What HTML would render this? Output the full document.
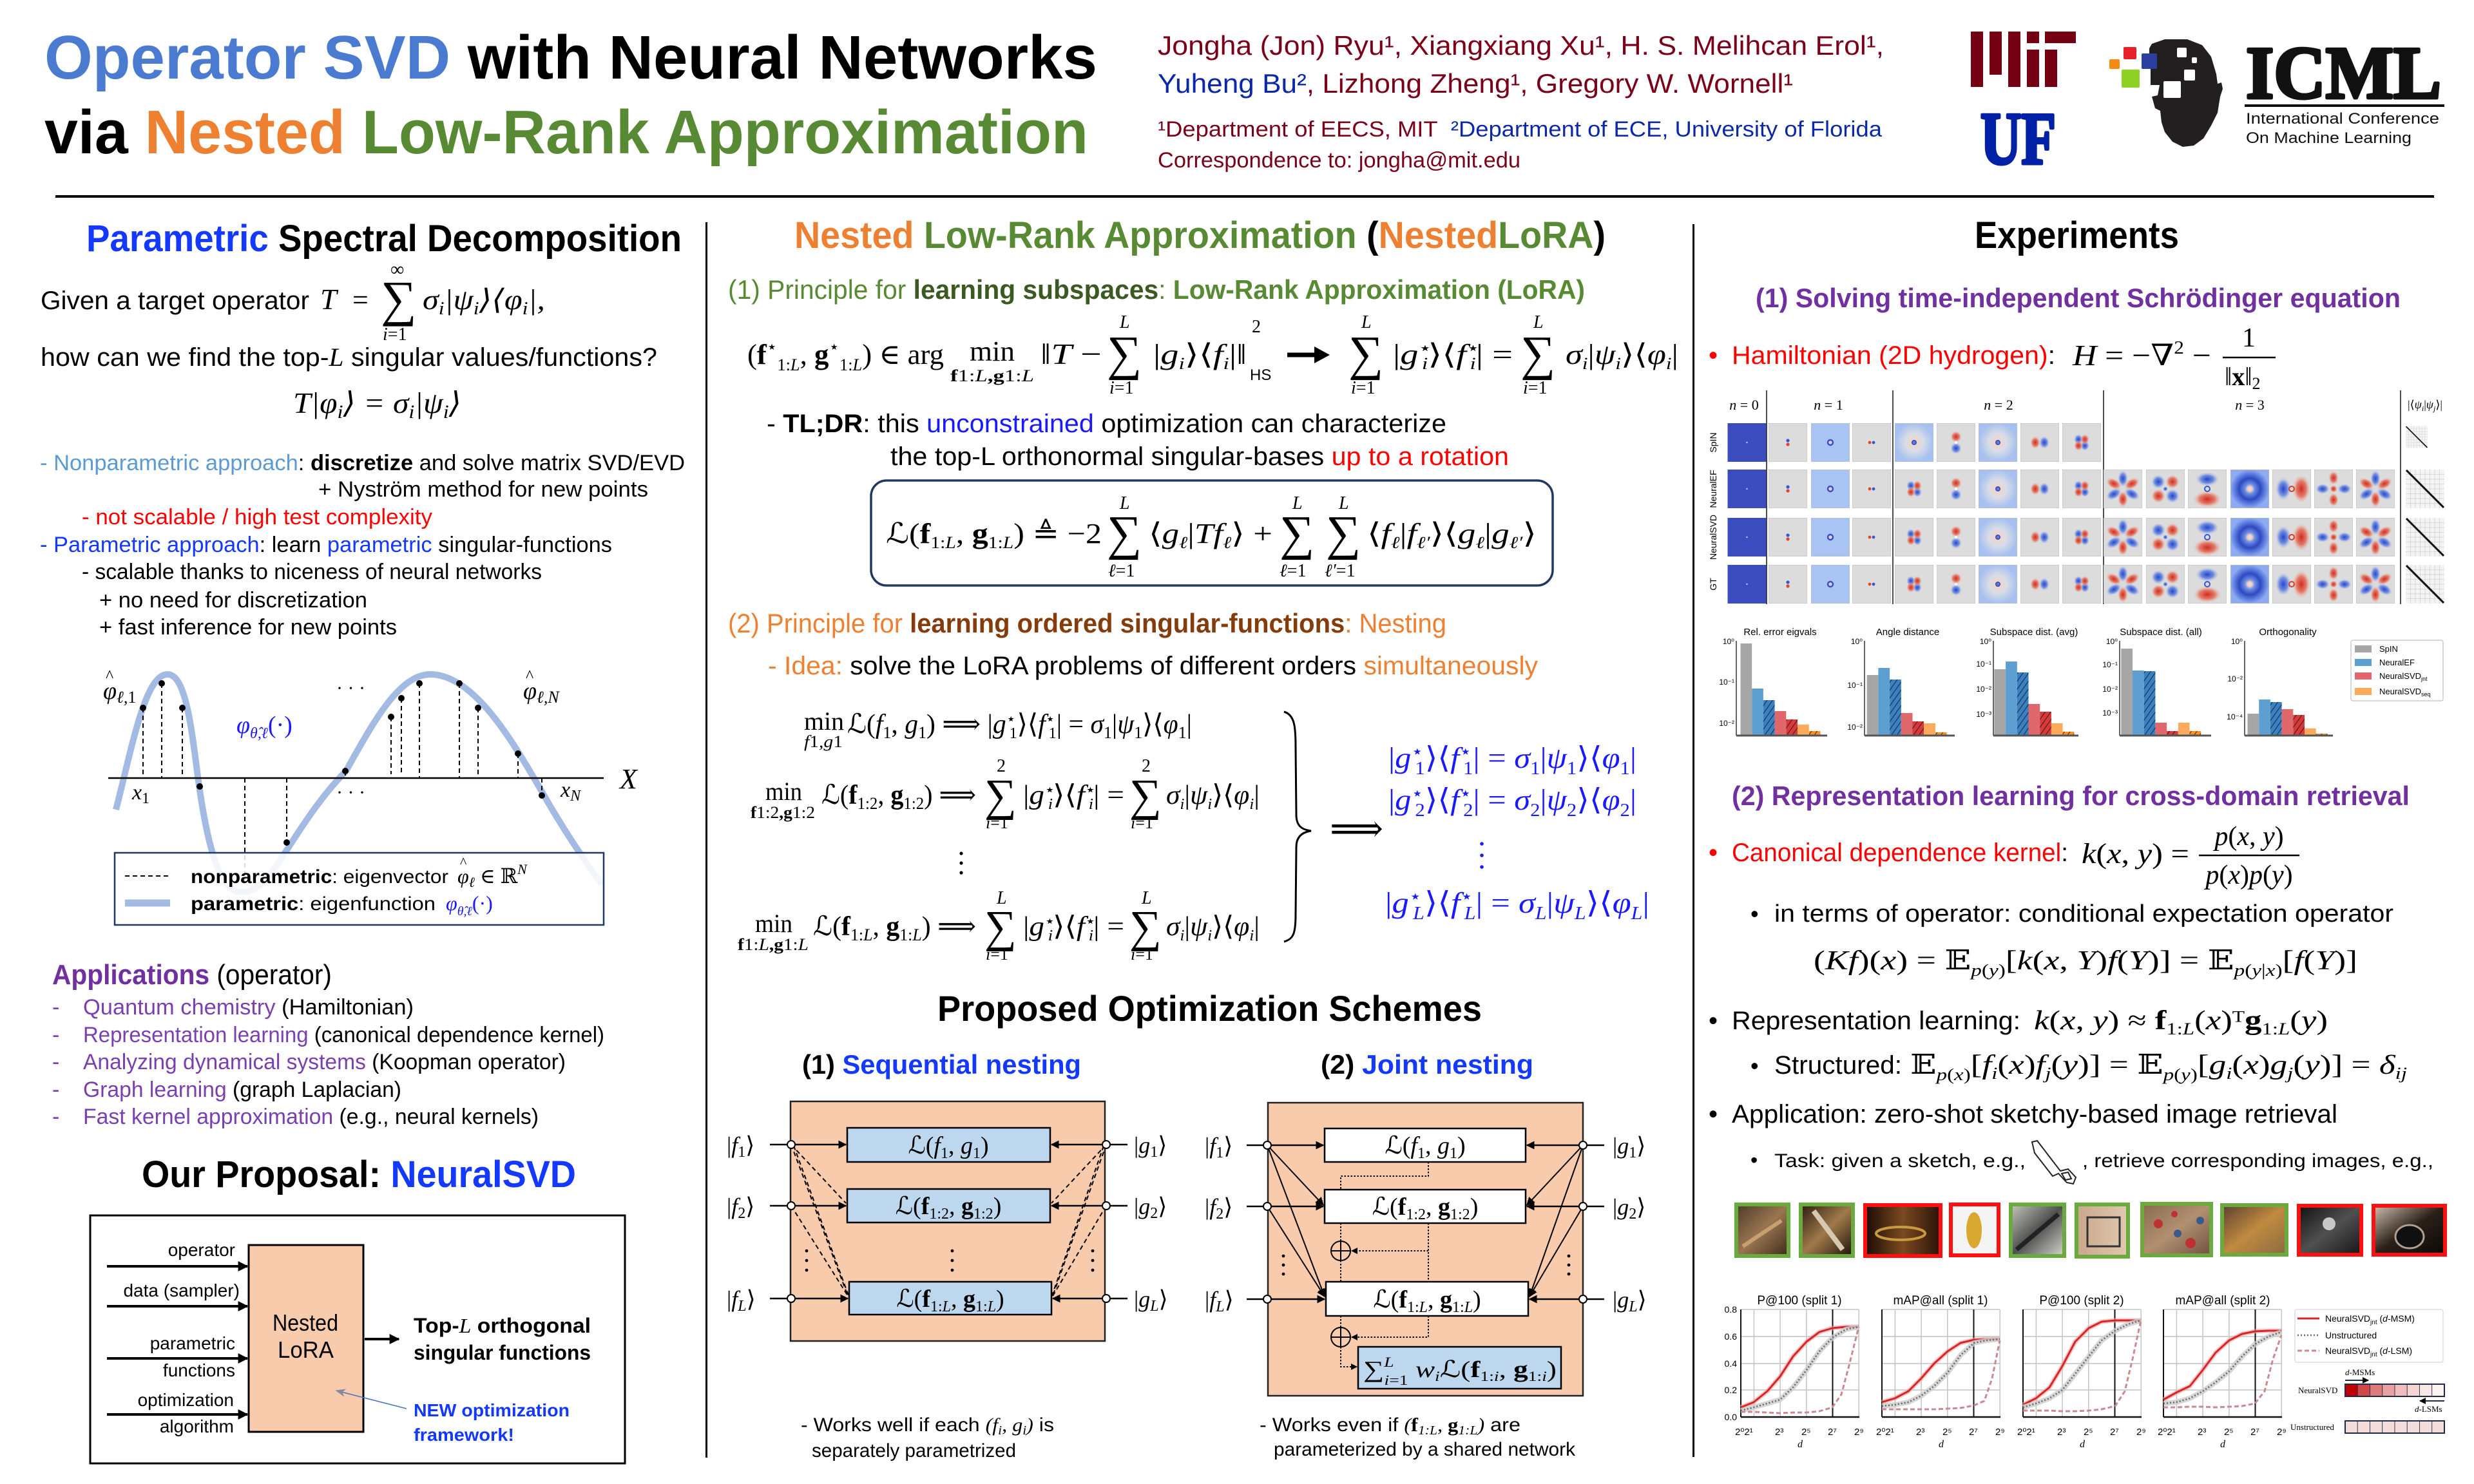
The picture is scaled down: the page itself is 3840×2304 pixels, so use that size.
<!DOCTYPE html>
<html><head><meta charset="utf-8">
<style>
html,body{margin:0;padding:0;background:#fff;}
body{width:3840px;height:2304px;overflow:hidden;}
svg{display:block;}
.s{font-family:"Liberation Sans","DejaVu Sans",sans-serif;}
.b{font-weight:bold;}
.m{font-family:"Liberation Serif","DejaVu Serif","DejaVu Sans",serif;font-style:italic;}
.r{font-family:"Liberation Serif","DejaVu Serif","DejaVu Sans",serif;font-style:normal;}
.bu{font-style:normal;font-weight:bold;}
.n{font-style:normal;}
</style></head>
<body>
<svg width="3840" height="2304" viewBox="0 0 3840 2304" xmlns="http://www.w3.org/2000/svg">
<defs>
<marker id="a1" viewBox="0 0 10 10" refX="9" refY="5" markerWidth="16" markerHeight="16" markerUnits="userSpaceOnUse" orient="auto"><path d="M0,0 L10,5 L0,10 z" fill="#000"/></marker>
<marker id="a2" viewBox="0 0 10 10" refX="9" refY="5" markerWidth="13" markerHeight="13" markerUnits="userSpaceOnUse" orient="auto"><path d="M0,0 L10,5 L0,10 z" fill="#000"/></marker>
<marker id="a3" viewBox="0 0 10 10" refX="9" refY="5" markerWidth="10" markerHeight="10" markerUnits="userSpaceOnUse" orient="auto"><path d="M0,0 L10,5 L0,10 z" fill="#000"/></marker>
<marker id="a4" viewBox="0 0 10 10" refX="9" refY="5" markerWidth="16" markerHeight="16" markerUnits="userSpaceOnUse" orient="auto"><path d="M0,1 L10,5 L0,9 L3,5 z" fill="#8a8a9a"/></marker>
<pattern id="hatch" width="7" height="7" patternUnits="userSpaceOnUse" patternTransform="rotate(35)"><line x1="0" y1="0" x2="0" y2="7" stroke="#111" stroke-width="1.6"/></pattern>
<radialGradient id="gr"><stop offset="0" stop-color="#d12a1e"/><stop offset="0.55" stop-color="#e36a55" stop-opacity="0.85"/><stop offset="1" stop-color="#f0c0b0" stop-opacity="0"/></radialGradient>
<radialGradient id="gb"><stop offset="0" stop-color="#2445cc"/><stop offset="0.55" stop-color="#5f7fe0" stop-opacity="0.85"/><stop offset="1" stop-color="#b0c0f0" stop-opacity="0"/></radialGradient>
<radialGradient id="gd"><stop offset="0" stop-color="#3050c8"/><stop offset="0.12" stop-color="#f3d4c6"/><stop offset="0.45" stop-color="#d9dde6"/><stop offset="1" stop-color="#a6c0f0"/></radialGradient>
<radialGradient id="gf"><stop offset="0" stop-color="#e9e2dc"/><stop offset="0.12" stop-color="#f0d0c0"/><stop offset="0.25" stop-color="#6e8fe6"/><stop offset="0.55" stop-color="#2e48c0"/><stop offset="0.8" stop-color="#5f80e0"/><stop offset="1" stop-color="#8eaaf0"/></radialGradient>
<symbol id="cd" viewBox="0 0 60 60"><rect width="60" height="60" fill="#3b4cbf"/><circle cx="30" cy="30" r="1.2" fill="#c8d0f0"/></symbol>
<symbol id="cA" viewBox="0 0 60 60"><rect width="60" height="60" fill="#dcdcdc" stroke="#bcbcbc"/><circle cx="30" cy="27" r="2.6" fill="#3555d5"/><circle cx="30" cy="33" r="2.6" fill="#e04434"/></symbol>
<symbol id="cA2" viewBox="0 0 60 60"><rect width="60" height="60" fill="#dcdcdc" stroke="#bcbcbc"/><circle cx="27" cy="30" r="2.4" fill="#e04434"/><circle cx="33" cy="30" r="2.4" fill="#3555d5"/></symbol>
<symbol id="cB" viewBox="0 0 60 60"><rect width="60" height="60" fill="#a9c3f3" stroke="#bcbcbc"/><circle cx="30" cy="30" r="4" fill="#e6d0d0" stroke="#2f4fd0" stroke-width="2.4"/></symbol>
<symbol id="cC" viewBox="0 0 60 60"><rect width="60" height="60" fill="#dcdcdc" stroke="#bcbcbc"/><ellipse cx="25" cy="25" rx="7" ry="8" fill="url(#gb)"/><ellipse cx="35" cy="35" rx="7" ry="8" fill="url(#gb)"/><ellipse cx="35" cy="25" rx="7" ry="8" fill="url(#gr)"/><ellipse cx="25" cy="35" rx="7" ry="8" fill="url(#gr)"/></symbol>
<symbol id="cG" viewBox="0 0 60 60"><rect width="60" height="60" fill="#dcdcdc" stroke="#bcbcbc"/><ellipse cx="30" cy="21" rx="9" ry="9" fill="url(#gr)"/><ellipse cx="30" cy="39" rx="9" ry="9" fill="url(#gb)"/><circle cx="30" cy="30" r="2" fill="#fff"/></symbol>
<symbol id="cH" viewBox="0 0 60 60"><rect width="60" height="60" fill="#dcdcdc" stroke="#bcbcbc"/><ellipse cx="23" cy="30" rx="8" ry="10" fill="url(#gr)"/><ellipse cx="37" cy="30" rx="8" ry="10" fill="url(#gb)"/></symbol>
<symbol id="cD" viewBox="0 0 60 60"><rect width="60" height="60" fill="url(#gd)" stroke="#bcbcbc"/><circle cx="30" cy="30" r="3" fill="none" stroke="#2f4fd0" stroke-width="2"/></symbol>
<symbol id="cE" viewBox="0 0 60 60"><rect width="60" height="60" fill="#dcdcdc" stroke="#bcbcbc"/><ellipse cx="30" cy="14" rx="8" ry="13" fill="url(#gb)"/><ellipse cx="30" cy="46" rx="8" ry="13" fill="url(#gr)"/><ellipse cx="16" cy="22" rx="8" ry="13" transform="rotate(-60 16 22)" fill="url(#gr)"/><ellipse cx="44" cy="38" rx="8" ry="13" transform="rotate(-60 44 38)" fill="url(#gb)"/><ellipse cx="44" cy="22" rx="8" ry="13" transform="rotate(60 44 22)" fill="url(#gr)"/><ellipse cx="16" cy="38" rx="8" ry="13" transform="rotate(60 16 38)" fill="url(#gb)"/></symbol>
<symbol id="cE2" viewBox="0 0 60 60"><rect width="60" height="60" fill="#dcdcdc" stroke="#bcbcbc"/><ellipse cx="19" cy="19" rx="11" ry="11" fill="url(#gb)"/><ellipse cx="41" cy="41" rx="11" ry="11" fill="url(#gb)"/><ellipse cx="41" cy="19" rx="11" ry="11" fill="url(#gr)"/><ellipse cx="19" cy="41" rx="11" ry="11" fill="url(#gr)"/><circle cx="30" cy="30" r="4" fill="url(#gb)"/></symbol>
<symbol id="cG2" viewBox="0 0 60 60"><rect width="60" height="60" fill="#dcdcdc" stroke="#bcbcbc"/><ellipse cx="30" cy="15" rx="18" ry="11" fill="url(#gb)"/><ellipse cx="30" cy="46" rx="22" ry="13" fill="url(#gr)"/><circle cx="30" cy="30" r="4" fill="none" stroke="#3555d5" stroke-width="2"/></symbol>
<symbol id="cG3" viewBox="0 0 60 60"><rect width="60" height="60" fill="#dcdcdc" stroke="#bcbcbc"/><ellipse cx="17" cy="30" rx="12" ry="18" fill="url(#gb)"/><ellipse cx="45" cy="30" rx="14" ry="22" fill="url(#gr)"/><circle cx="30" cy="30" r="4" fill="none" stroke="#d04030" stroke-width="2"/></symbol>
<symbol id="cE3" viewBox="0 0 60 60"><rect width="60" height="60" fill="#dcdcdc" stroke="#bcbcbc"/><ellipse cx="30" cy="13" rx="8" ry="11" fill="url(#gr)"/><ellipse cx="30" cy="47" rx="8" ry="11" fill="url(#gr)"/><ellipse cx="13" cy="30" rx="11" ry="8" fill="url(#gb)"/><ellipse cx="47" cy="30" rx="11" ry="8" fill="url(#gb)"/><circle cx="30" cy="30" r="6" fill="url(#gr)"/></symbol>
<symbol id="cF" viewBox="0 0 60 60"><rect width="60" height="60" fill="url(#gf)" stroke="#bcbcbc"/></symbol>
<symbol id="om" viewBox="0 0 60 60"><rect width="60" height="60" fill="#f4f4f4"/><path d="M0,7.5H60M0,15H60M0,22.5H60M0,30H60M0,37.5H60M0,45H60M0,52.5H60M7.5,0V60M15,0V60M22.5,0V60M30,0V60M37.5,0V60M45,0V60M52.5,0V60" stroke="#d0d0d0" stroke-width="0.8"/><line x1="1" y1="1" x2="59" y2="59" stroke="#111" stroke-width="3"/></symbol>
</defs>

<!-- ================= HEADER ================= -->
<text class="s b" x="69" y="122" font-size="96" textLength="1634" lengthAdjust="spacingAndGlyphs"><tspan fill="#4a7bd0">Operator SVD</tspan> with Neural Networks</text>
<text class="s b" x="69" y="238" font-size="96" textLength="1620" lengthAdjust="spacingAndGlyphs">via <tspan fill="#ee8032">Nested</tspan> <tspan fill="#588a34">Low-Rank Approximation</tspan></text>

<text class="s" x="1797" y="85" font-size="42" fill="#7a0019" textLength="1127" lengthAdjust="spacingAndGlyphs">Jongha (Jon) Ryu¹, Xiangxiang Xu¹, H. S. Melihcan Erol¹,</text>
<text class="s" x="1797" y="144" font-size="42" fill="#7a0019" textLength="986" lengthAdjust="spacingAndGlyphs"><tspan fill="#0a28a8">Yuheng Bu²</tspan>, Lizhong Zheng¹, Gregory W. Wornell¹</text>
<text class="s" x="1797" y="212" font-size="34" fill="#7a0019" textLength="1124" lengthAdjust="spacingAndGlyphs">¹Department of EECS, MIT&#160;&#160;<tspan fill="#0a28a8">²Department of ECE, University of Florida</tspan></text>
<text class="s" x="1797" y="260" font-size="34" fill="#7a0019" textLength="563" lengthAdjust="spacingAndGlyphs">Correspondence to: jongha@mit.edu</text>

<!-- MIT logo -->
<g fill="#750014">
<rect x="3059" y="49" width="19" height="86"/>
<rect x="3088" y="49" width="19" height="67"/>
<rect x="3117" y="49" width="19" height="86"/>
<rect x="3146" y="49" width="19" height="18"/>
<rect x="3146" y="77" width="19" height="58"/>
<rect x="3174" y="49" width="48" height="18"/>
<rect x="3174" y="77" width="19" height="58"/>
</g>
<!-- UF logo -->
<text class="r b" x="3074" y="254" font-size="116" fill="#0021a5" stroke="#0021a5" stroke-width="5" stroke-linejoin="round" textLength="117" lengthAdjust="spacingAndGlyphs">UF</text>
<!-- ICML logo -->
<path d="M3336,75 L3340,68 L3360,61 L3395,61 L3418,70 L3432,88 L3440,115 L3442,130 L3448,128 L3450,138 L3446,150 L3442,175 L3432,195 L3420,215 L3405,226 L3388,228 L3372,220 L3360,205 L3355,190 L3353,172 L3345,168 L3340,150 L3349,148 L3352,132 L3338,132 L3338,104 L3346,104 L3346,86 L3336,86 Z" fill="#231f20"/>
<rect x="3296" y="73" width="20" height="19" rx="2" fill="#e8202a"/>
<rect x="3324" y="83" width="24" height="24" rx="2" fill="#2b3f9e"/>
<rect x="3274" y="92" width="16" height="15" rx="2" fill="#f28c12"/>
<rect x="3293" y="108" width="28" height="28" rx="2" fill="#8fd124"/>
<rect x="3379" y="74" width="15" height="15" rx="2" fill="#fff"/>
<rect x="3402" y="89" width="8" height="9" rx="2" fill="#fff"/>
<rect x="3390" y="108" width="17" height="17" rx="2" fill="#fff"/>
<rect x="3358" y="126" width="27" height="26" rx="2" fill="#fff"/>
<text class="r b" x="3486" y="152" font-size="116" fill="#111" stroke="#111" stroke-width="5" stroke-linejoin="round" textLength="303" lengthAdjust="spacingAndGlyphs">ICML</text>
<rect x="3484" y="162" width="310" height="4" fill="#111"/>
<text class="s" x="3486" y="192" font-size="24" fill="#111" textLength="300" lengthAdjust="spacingAndGlyphs">International Conference</text>
<text class="s" x="3486" y="222" font-size="24" fill="#111" textLength="257" lengthAdjust="spacingAndGlyphs">On Machine Learning</text>

<rect x="86" y="303" width="3692" height="4" fill="#000"/>
<rect x="1095" y="345" width="3" height="1918" fill="#000"/>
<rect x="2627" y="348" width="3" height="1914" fill="#000"/>

<!-- ================= LEFT COLUMN ================= -->
<text class="s b" x="134" y="390" font-size="58" textLength="924" lengthAdjust="spacingAndGlyphs"><tspan fill="#1338ff">Parametric</tspan> Spectral Decomposition</text>

<text class="s" x="63" y="480" font-size="40" textLength="417" lengthAdjust="spacingAndGlyphs">Given a target operator</text>
<text class="m" x="497" y="480" font-size="46">T</text>
<text class="r" x="547" y="480" font-size="44">=</text>
<text class="r" x="591" y="490" font-size="78">∑</text>
<text class="r" x="606" y="428" font-size="30">∞</text>
<text class="m" x="594" y="528" font-size="28">i<tspan class="n">=1</tspan></text>
<text class="m" x="656" y="480" font-size="44" textLength="190" lengthAdjust="spacingAndGlyphs">σ<tspan font-size="28" dy="8">i</tspan><tspan dy="-8">|ψ</tspan><tspan font-size="28" dy="8">i</tspan><tspan dy="-8">⟩⟨φ</tspan><tspan font-size="28" dy="8">i</tspan><tspan dy="-8">|,</tspan></text>
<text class="s" x="63" y="568" font-size="40" textLength="957" lengthAdjust="spacingAndGlyphs">how can we find the top-<tspan class="m">L</tspan> singular values/functions?</text>
<text class="m" x="455" y="641" font-size="46" textLength="261" lengthAdjust="spacingAndGlyphs">T|φ<tspan font-size="30" dy="8">i</tspan><tspan dy="-8">⟩ = σ</tspan><tspan font-size="30" dy="8">i</tspan><tspan dy="-8">|ψ</tspan><tspan font-size="30" dy="8">i</tspan><tspan dy="-8">⟩</tspan></text>

<text class="s" x="62" y="730" font-size="34" textLength="1001" lengthAdjust="spacingAndGlyphs"><tspan fill="#5b9bd5">- Nonparametric approach</tspan>: <tspan class="b">discretize</tspan> and solve matrix SVD/EVD</text>
<text class="s" x="494" y="771" font-size="34" textLength="512" lengthAdjust="spacingAndGlyphs">+ Nyström method for new points</text>
<text class="s" x="127" y="814" font-size="34" fill="#ff0000" textLength="544" lengthAdjust="spacingAndGlyphs">- not scalable / high test complexity</text>
<text class="s" x="62" y="857" font-size="34" textLength="888" lengthAdjust="spacingAndGlyphs"><tspan fill="#1338ff">- Parametric approach</tspan>: learn <tspan fill="#1338ff">parametric</tspan> singular-functions</text>
<text class="s" x="127" y="899" font-size="34" textLength="714" lengthAdjust="spacingAndGlyphs">- scalable thanks to niceness of neural networks</text>
<text class="s" x="154" y="943" font-size="34" textLength="416" lengthAdjust="spacingAndGlyphs">+ no need for discretization</text>
<text class="s" x="154" y="985" font-size="34" textLength="462" lengthAdjust="spacingAndGlyphs">+ fast inference for new points</text>

<!-- function plot -->
<path d="M180,1257 C205,1160 225,1047 260,1047 C290,1047 298,1140 309,1220 C322,1310 340,1385 375,1385 C405,1385 425,1350 445,1320 C480,1265 505,1230 537,1197 C580,1120 620,1047 668,1047 C735,1047 795,1150 837,1222 C875,1290 910,1340 934,1373" fill="none" stroke="#a3bbe3" stroke-width="10"/>
<line x1="168" y1="1208" x2="937" y2="1208" stroke="#000" stroke-width="2.5"/>
<g stroke="#000" stroke-width="2" stroke-dasharray="7,5">
<line x1="222" y1="1099" x2="222" y2="1208"/>
<line x1="251" y1="1061" x2="251" y2="1208"/>
<line x1="283" y1="1099" x2="283" y2="1208"/>
<line x1="380" y1="1208" x2="380" y2="1370"/>
<line x1="445" y1="1208" x2="445" y2="1308"/>
<line x1="536" y1="1197" x2="536" y2="1208"/>
<line x1="607" y1="1113" x2="607" y2="1202"/>
<line x1="623" y1="1084" x2="623" y2="1202"/>
<line x1="651" y1="1061" x2="651" y2="1208"/>
<line x1="713" y1="1061" x2="713" y2="1208"/>
<line x1="742" y1="1099" x2="742" y2="1208"/>
<line x1="804" y1="1170" x2="804" y2="1208"/>
<line x1="841" y1="1208" x2="841" y2="1235"/>
</g>
<g fill="#000">
<circle cx="222" cy="1099" r="5"/><circle cx="251" cy="1061" r="5"/><circle cx="283" cy="1099" r="5"/><circle cx="310" cy="1221" r="5"/><circle cx="445" cy="1308" r="5"/><circle cx="536" cy="1197" r="5"/><circle cx="607" cy="1113" r="5"/><circle cx="623" cy="1084" r="5"/><circle cx="651" cy="1061" r="5"/><circle cx="713" cy="1061" r="5"/><circle cx="742" cy="1099" r="5"/><circle cx="804" cy="1170" r="5"/><circle cx="841" cy="1235" r="5"/>
</g>
<text class="r" x="164" y="1058" font-size="26">^</text>
<text class="m" x="160" y="1085" font-size="38">φ<tspan font-size="26" dy="6">ℓ,<tspan class="n">1</tspan></tspan></text>
<text class="r" x="816" y="1058" font-size="26">^</text>
<text class="m" x="812" y="1085" font-size="38">φ<tspan font-size="26" dy="6">ℓ,N</tspan></text>
<text class="m" x="367" y="1138" font-size="38" fill="#1a1aff">φ<tspan font-size="24" dy="8">θ̂,ℓ</tspan><tspan dy="-8" class="n">(·)</tspan></text>
<text class="r" x="522" y="1078" font-size="30">· · ·</text>
<text class="r" x="522" y="1240" font-size="30">· · ·</text>
<text class="m" x="205" y="1241" font-size="34">x<tspan font-size="24" dy="6" class="n">1</tspan></text>
<text class="m" x="870" y="1237" font-size="34">x<tspan font-size="24" dy="6">N</tspan></text>
<text class="m" x="962" y="1224" font-size="44">X</text>
<rect x="178" y="1324" width="759" height="112" fill="#fff" fill-opacity="0.86" stroke="#1f3864" stroke-width="2.5"/>
<line x1="194" y1="1360" x2="264" y2="1360" stroke="#000" stroke-width="2" stroke-dasharray="7,5"/>
<line x1="194" y1="1402" x2="264" y2="1402" stroke="#a3bbe3" stroke-width="11"/>
<text class="s" x="296" y="1371" font-size="30" textLength="400" lengthAdjust="spacingAndGlyphs"><tspan class="b">nonparametric</tspan>: eigenvector</text>
<text class="m" x="710" y="1371" font-size="32">φ<tspan font-size="22" dy="6">ℓ</tspan><tspan dy="-6" class="n"> ∈ ℝ</tspan><tspan font-size="22" dy="-14">N</tspan></text>
<text class="r" x="714" y="1346" font-size="22">^</text>
<text class="s" x="296" y="1413" font-size="30" textLength="380" lengthAdjust="spacingAndGlyphs"><tspan class="b">parametric</tspan>: eigenfunction</text>
<text class="m" x="692" y="1413" font-size="32" fill="#1a1aff">φ<tspan font-size="20" dy="8">θ̂,ℓ</tspan><tspan dy="-8" class="n">(·)</tspan></text>

<!-- Applications -->
<text class="s" x="81" y="1528" font-size="44" textLength="434" lengthAdjust="spacingAndGlyphs"><tspan class="b" fill="#7030a0">Applications</tspan> (operator)</text>
<g class="s" font-size="34" fill="#7a40b0">
<text x="81" y="1575">-</text><text x="81" y="1618">-</text><text x="81" y="1660">-</text><text x="81" y="1703">-</text><text x="81" y="1745">-</text>
</g>
<text class="s" x="129" y="1575" font-size="34" textLength="513" lengthAdjust="spacingAndGlyphs"><tspan fill="#7a40b0">Quantum chemistry</tspan> (Hamiltonian)</text>
<text class="s" x="129" y="1618" font-size="34" textLength="809" lengthAdjust="spacingAndGlyphs"><tspan fill="#7a40b0">Representation learning</tspan> (canonical dependence kernel)</text>
<text class="s" x="129" y="1660" font-size="34" textLength="749" lengthAdjust="spacingAndGlyphs"><tspan fill="#7a40b0">Analyzing dynamical systems</tspan> (Koopman operator)</text>
<text class="s" x="129" y="1703" font-size="34" textLength="494" lengthAdjust="spacingAndGlyphs"><tspan fill="#7a40b0">Graph learning</tspan> (graph Laplacian)</text>
<text class="s" x="129" y="1745" font-size="34" textLength="707" lengthAdjust="spacingAndGlyphs"><tspan fill="#7a40b0">Fast kernel approximation</tspan> (e.g., neural kernels)</text>

<text class="s b" x="220" y="1843" font-size="58" textLength="674" lengthAdjust="spacingAndGlyphs">Our Proposal: <tspan fill="#1338ff">NeuralSVD</tspan></text>

<rect x="140" y="1887" width="830" height="385" fill="none" stroke="#000" stroke-width="3"/>
<rect x="386" y="1933" width="178" height="290" fill="#f8cbad" stroke="#000" stroke-width="3"/>
<g stroke="#000" stroke-width="4">
<line x1="166" y1="1966" x2="384" y2="1966" marker-end="url(#a1)"/>
<line x1="166" y1="2028" x2="384" y2="2028" marker-end="url(#a1)"/>
<line x1="166" y1="2109" x2="384" y2="2109" marker-end="url(#a1)"/>
<line x1="166" y1="2196" x2="384" y2="2196" marker-end="url(#a1)"/>
<line x1="566" y1="2079" x2="619" y2="2079" marker-end="url(#a1)"/>
</g>
<g class="s" font-size="28" text-anchor="end">
<text x="365" y="1950">operator</text>
<text x="372" y="2013">data (sampler)</text>
<text x="365" y="2095">parametric</text>
<text x="365" y="2137">functions</text>
<text x="363" y="2183">optimization</text>
<text x="363" y="2224">algorithm</text>
</g>
<text class="s" x="423" y="2066" font-size="36" textLength="102" lengthAdjust="spacingAndGlyphs">Nested</text>
<text class="s" x="431" y="2108" font-size="36" textLength="87" lengthAdjust="spacingAndGlyphs">LoRA</text>
<text class="s b" x="642" y="2069" font-size="32" textLength="275" lengthAdjust="spacingAndGlyphs">Top-<tspan class="m" font-weight="normal">L</tspan> orthogonal</text>
<text class="s b" x="642" y="2111" font-size="32" textLength="275" lengthAdjust="spacingAndGlyphs">singular functions</text>
<text class="s b" x="642" y="2199" font-size="28" fill="#1338ff" textLength="242" lengthAdjust="spacingAndGlyphs">NEW optimization</text>
<text class="s b" x="642" y="2237" font-size="28" fill="#1338ff" textLength="156" lengthAdjust="spacingAndGlyphs">framework!</text>
<line x1="631" y1="2187" x2="522" y2="2159" stroke="#4472c4" stroke-width="1.5" marker-end="url(#a4)"/>

<!-- ================= MIDDLE COLUMN ================= -->
<text class="s b" x="1233" y="385" font-size="58" textLength="1259" lengthAdjust="spacingAndGlyphs"><tspan fill="#ee8032">Nested</tspan> <tspan fill="#588a34">Low-Rank Approximation</tspan> (<tspan fill="#ee8032">Nested</tspan><tspan fill="#588a34">LoRA</tspan>)</text>
<text class="s" x="1130" y="464" font-size="42" fill="#588a34" textLength="1330" lengthAdjust="spacingAndGlyphs">(1) Principle for <tspan class="b" fill="#3b5a22">learning subspaces</tspan>: <tspan class="b">Low-Rank Approximation (LoRA)</tspan></text>

<!-- LoRA equation -->
<text class="m" x="1160" y="565" font-size="44" textLength="305" lengthAdjust="spacingAndGlyphs"><tspan class="n">(</tspan><tspan class="bu">f</tspan><tspan font-size="26" dy="-18" class="n">⋆</tspan><tspan font-size="26" dy="28"><tspan class="n">1:</tspan>L</tspan><tspan dy="-10" class="n">, </tspan><tspan class="bu">g</tspan><tspan font-size="26" dy="-18" class="n">⋆</tspan><tspan font-size="26" dy="28"><tspan class="n">1:</tspan>L</tspan><tspan dy="-10" class="n">) ∈ arg</tspan></text>
<text class="r" x="1505" y="560" font-size="44" textLength="70" lengthAdjust="spacingAndGlyphs">min</text>
<text class="r b" x="1475" y="592" font-size="26" textLength="130" lengthAdjust="spacingAndGlyphs">f<tspan font-weight="normal">1:</tspan><tspan class="m" font-weight="normal">L</tspan>,g<tspan font-weight="normal">1:</tspan><tspan class="m" font-weight="normal">L</tspan></text>
<text class="m" x="1615" y="565" font-size="46" textLength="95" lengthAdjust="spacingAndGlyphs"><tspan class="n">‖</tspan>T <tspan class="n">−</tspan></text>
<text class="r" x="1718" y="574" font-size="76">∑</text>
<text class="m" x="1738" y="509" font-size="28">L</text>
<text class="m" x="1722" y="611" font-size="28">i<tspan class="n">=1</tspan></text>
<text class="m" x="1790" y="565" font-size="44" textLength="145" lengthAdjust="spacingAndGlyphs"><tspan class="n">|</tspan>g<tspan font-size="26" dy="8">i</tspan><tspan dy="-8" class="n">⟩⟨</tspan>f<tspan font-size="26" dy="8">i</tspan><tspan dy="-8" class="n">|‖</tspan></text>
<text class="r" x="1943" y="516" font-size="28">2</text>
<text class="s" x="1940" y="590" font-size="24">HS</text>
<line x1="1998" y1="551" x2="2046" y2="551" stroke="#000" stroke-width="7"/>
<path d="M2040,538 L2064,551 L2040,564 z" fill="#000"/>
<text class="r" x="2093" y="574" font-size="76">∑</text>
<text class="m" x="2113" y="509" font-size="28">L</text>
<text class="m" x="2097" y="611" font-size="28">i<tspan class="n">=1</tspan></text>
<text class="m" x="2162" y="565" font-size="44" textLength="186" lengthAdjust="spacingAndGlyphs"><tspan class="n">|</tspan>g<tspan font-size="26" dy="-16" class="n">⋆</tspan><tspan font-size="26" dx="-12" dy="24">i</tspan><tspan dy="-8" class="n">⟩⟨</tspan>f<tspan font-size="26" dy="-16" class="n">⋆</tspan><tspan font-size="26" dx="-12" dy="24">i</tspan><tspan dy="-8" class="n">| =</tspan></text>
<text class="r" x="2360" y="574" font-size="76">∑</text>
<text class="m" x="2380" y="509" font-size="28">L</text>
<text class="m" x="2364" y="611" font-size="28">i<tspan class="n">=1</tspan></text>
<text class="m" x="2430" y="565" font-size="44" textLength="175" lengthAdjust="spacingAndGlyphs">σ<tspan font-size="26" dy="8">i</tspan><tspan dy="-8" class="n">|</tspan>ψ<tspan font-size="26" dy="8">i</tspan><tspan dy="-8" class="n">⟩⟨</tspan>φ<tspan font-size="26" dy="8">i</tspan><tspan dy="-8" class="n">|</tspan></text>

<text class="s" x="1190" y="671" font-size="40" textLength="1055" lengthAdjust="spacingAndGlyphs">- <tspan class="b">TL;DR</tspan>: this <tspan fill="#1a1aff">unconstrained</tspan> optimization can characterize</text>
<text class="s" x="1382" y="722" font-size="40" textLength="960" lengthAdjust="spacingAndGlyphs">the top-L orthonormal singular-bases <tspan fill="#ff0000">up to a rotation</tspan></text>

<rect x="1352" y="746" width="1058" height="163" rx="24" fill="none" stroke="#1f3864" stroke-width="3.5"/>
<text class="m" x="1375" y="843" font-size="44" textLength="335" lengthAdjust="spacingAndGlyphs">ℒ<tspan class="n">(</tspan><tspan class="bu">f</tspan><tspan font-size="26" dy="8"><tspan class="n">1:</tspan>L</tspan><tspan dy="-8" class="n">, </tspan><tspan class="bu">g</tspan><tspan font-size="26" dy="8"><tspan class="n">1:</tspan>L</tspan><tspan dy="-8" class="n">) ≜ −2</tspan></text>
<text class="r" x="1718" y="853" font-size="76">∑</text>
<text class="m" x="1738" y="790" font-size="28">L</text>
<text class="m" x="1720" y="895" font-size="28">ℓ<tspan class="n">=1</tspan></text>
<text class="m" x="1783" y="843" font-size="44" textLength="192" lengthAdjust="spacingAndGlyphs"><tspan class="n">⟨</tspan>g<tspan font-size="26" dy="8">ℓ</tspan><tspan dy="-8" class="n">|</tspan>Tf<tspan font-size="26" dy="8">ℓ</tspan><tspan dy="-8" class="n">⟩ +</tspan></text>
<text class="r" x="1986" y="853" font-size="76">∑</text>
<text class="m" x="2006" y="790" font-size="28">L</text>
<text class="m" x="1986" y="895" font-size="28">ℓ<tspan class="n">=1</tspan></text>
<text class="r" x="2058" y="853" font-size="76">∑</text>
<text class="m" x="2078" y="790" font-size="28">L</text>
<text class="m" x="2056" y="895" font-size="28">ℓ′<tspan class="n">=1</tspan></text>
<text class="m" x="2122" y="843" font-size="44" textLength="263" lengthAdjust="spacingAndGlyphs"><tspan class="n">⟨</tspan>f<tspan font-size="26" dy="8">ℓ</tspan><tspan dy="-8" class="n">|</tspan>f<tspan font-size="26" dy="8">ℓ′</tspan><tspan dy="-8" class="n">⟩⟨</tspan>g<tspan font-size="26" dy="8">ℓ</tspan><tspan dy="-8" class="n">|</tspan>g<tspan font-size="26" dy="8">ℓ′</tspan><tspan dy="-8" class="n">⟩</tspan></text>

<text class="s" x="1130" y="982" font-size="42" fill="#ee8032" textLength="1115" lengthAdjust="spacingAndGlyphs">(2) Principle for <tspan class="b" fill="#843c0c">learning ordered singular-functions</tspan>: Nesting</text>
<text class="s" x="1192" y="1047" font-size="40" textLength="1195" lengthAdjust="spacingAndGlyphs"><tspan fill="#ee8032">- Idea:</tspan> solve the LoRA problems of different orders <tspan fill="#ee8032">simultaneously</tspan></text>

<!-- nesting rows -->
<text class="r" x="1248" y="1133" font-size="40" textLength="62" lengthAdjust="spacingAndGlyphs">min</text>
<text class="m" x="1248" y="1160" font-size="26" textLength="60" lengthAdjust="spacingAndGlyphs">f<tspan class="n">1</tspan>,g<tspan class="n">1</tspan></text>
<text class="m" x="1315" y="1138" font-size="42" textLength="535" lengthAdjust="spacingAndGlyphs">ℒ<tspan class="n">(</tspan>f<tspan font-size="26" dy="8" class="n">1</tspan><tspan dy="-8" class="n">, </tspan>g<tspan font-size="26" dy="8" class="n">1</tspan><tspan dy="-8" class="n">) ⟹ |</tspan>g<tspan font-size="24" dy="-14" class="n">⋆</tspan><tspan font-size="24" dx="-10" dy="22" class="n">1</tspan><tspan dy="-8" class="n">⟩⟨</tspan>f<tspan font-size="24" dy="-14" class="n">⋆</tspan><tspan font-size="24" dx="-10" dy="22" class="n">1</tspan><tspan dy="-8" class="n">| = </tspan>σ<tspan font-size="26" dy="8" class="n">1</tspan><tspan dy="-8" class="n">|</tspan>ψ<tspan font-size="26" dy="8" class="n">1</tspan><tspan dy="-8" class="n">⟩⟨</tspan>φ<tspan font-size="26" dy="8" class="n">1</tspan><tspan dy="-8" class="n">|</tspan></text>

<text class="r" x="1188" y="1242" font-size="40" textLength="57" lengthAdjust="spacingAndGlyphs">min</text>
<text class="r b" x="1165" y="1270" font-size="26" textLength="100" lengthAdjust="spacingAndGlyphs">f<tspan font-weight="normal">1:2</tspan>,g<tspan font-weight="normal">1:2</tspan></text>
<text class="m" x="1275" y="1248" font-size="42" textLength="240" lengthAdjust="spacingAndGlyphs">ℒ<tspan class="n">(</tspan><tspan class="bu">f</tspan><tspan font-size="26" dy="8" class="n">1:2</tspan><tspan dy="-8" class="n">, </tspan><tspan class="bu">g</tspan><tspan font-size="26" dy="8" class="n">1:2</tspan><tspan dy="-8" class="n">) ⟹</tspan></text>
<text class="r" x="1528" y="1258" font-size="70">∑</text>
<text class="r" x="1547" y="1198" font-size="28">2</text>
<text class="m" x="1530" y="1286" font-size="26">i<tspan class="n">=1</tspan></text>
<text class="m" x="1588" y="1248" font-size="42" textLength="157" lengthAdjust="spacingAndGlyphs"><tspan class="n">|</tspan>g<tspan font-size="24" dy="-14" class="n">⋆</tspan><tspan font-size="24" dx="-10" dy="22">i</tspan><tspan dy="-8" class="n">⟩⟨</tspan>f<tspan font-size="24" dy="-14" class="n">⋆</tspan><tspan font-size="24" dx="-10" dy="22">i</tspan><tspan dy="-8" class="n">| =</tspan></text>
<text class="r" x="1753" y="1258" font-size="70">∑</text>
<text class="r" x="1772" y="1198" font-size="28">2</text>
<text class="m" x="1755" y="1286" font-size="26">i<tspan class="n">=1</tspan></text>
<text class="m" x="1810" y="1248" font-size="42" textLength="145" lengthAdjust="spacingAndGlyphs">σ<tspan font-size="24" dy="8">i</tspan><tspan dy="-8" class="n">|</tspan>ψ<tspan font-size="24" dy="8">i</tspan><tspan dy="-8" class="n">⟩⟨</tspan>φ<tspan font-size="24" dy="8">i</tspan><tspan dy="-8" class="n">|</tspan></text>

<g fill="#000"><circle cx="1492" cy="1325" r="2.6"/><circle cx="1492" cy="1340" r="2.6"/><circle cx="1492" cy="1355" r="2.6"/></g>

<text class="r" x="1172" y="1447" font-size="40" textLength="58" lengthAdjust="spacingAndGlyphs">min</text>
<text class="r b" x="1145" y="1475" font-size="26" textLength="110" lengthAdjust="spacingAndGlyphs">f<tspan font-weight="normal">1:</tspan><tspan class="m" font-weight="normal">L</tspan>,g<tspan font-weight="normal">1:</tspan><tspan class="m" font-weight="normal">L</tspan></text>
<text class="m" x="1262" y="1452" font-size="42" textLength="253" lengthAdjust="spacingAndGlyphs">ℒ<tspan class="n">(</tspan><tspan class="bu">f</tspan><tspan font-size="26" dy="8"><tspan class="n">1:</tspan>L</tspan><tspan dy="-8" class="n">, </tspan><tspan class="bu">g</tspan><tspan font-size="26" dy="8"><tspan class="n">1:</tspan>L</tspan><tspan dy="-8" class="n">) ⟹</tspan></text>
<text class="r" x="1528" y="1462" font-size="70">∑</text>
<text class="m" x="1547" y="1403" font-size="28">L</text>
<text class="m" x="1530" y="1490" font-size="26">i<tspan class="n">=1</tspan></text>
<text class="m" x="1588" y="1452" font-size="42" textLength="157" lengthAdjust="spacingAndGlyphs"><tspan class="n">|</tspan>g<tspan font-size="24" dy="-14" class="n">⋆</tspan><tspan font-size="24" dx="-10" dy="22">i</tspan><tspan dy="-8" class="n">⟩⟨</tspan>f<tspan font-size="24" dy="-14" class="n">⋆</tspan><tspan font-size="24" dx="-10" dy="22">i</tspan><tspan dy="-8" class="n">| =</tspan></text>
<text class="r" x="1753" y="1462" font-size="70">∑</text>
<text class="m" x="1772" y="1403" font-size="28">L</text>
<text class="m" x="1755" y="1490" font-size="26">i<tspan class="n">=1</tspan></text>
<text class="m" x="1810" y="1452" font-size="42" textLength="145" lengthAdjust="spacingAndGlyphs">σ<tspan font-size="24" dy="8">i</tspan><tspan dy="-8" class="n">|</tspan>ψ<tspan font-size="24" dy="8">i</tspan><tspan dy="-8" class="n">⟩⟨</tspan>φ<tspan font-size="24" dy="8">i</tspan><tspan dy="-8" class="n">|</tspan></text>

<path d="M1993,1105 C2010,1110 2011,1130 2011,1160 L2012,1265 C2012,1282 2020,1288 2035,1290 C2020,1292 2012,1300 2012,1315 L2011,1420 C2011,1448 2008,1458 1993,1462" fill="none" stroke="#000" stroke-width="3"/>
<text class="r" x="2064" y="1306" font-size="58">⟹</text>

<g fill="#1a1aff">
<text class="m" x="2155" y="1192" font-size="46" textLength="385" lengthAdjust="spacingAndGlyphs"><tspan class="n">|</tspan>g<tspan font-size="28" dy="-16" class="n">⋆</tspan><tspan font-size="28" dx="-12" dy="26" class="n">1</tspan><tspan dy="-10" class="n">⟩⟨</tspan>f<tspan font-size="28" dy="-16" class="n">⋆</tspan><tspan font-size="28" dx="-12" dy="26" class="n">1</tspan><tspan dy="-10" class="n">| = </tspan>σ<tspan font-size="28" dy="10" class="n">1</tspan><tspan dy="-10" class="n">|</tspan>ψ<tspan font-size="28" dy="10" class="n">1</tspan><tspan dy="-10" class="n">⟩⟨</tspan>φ<tspan font-size="28" dy="10" class="n">1</tspan><tspan dy="-10" class="n">|</tspan></text>
<text class="m" x="2155" y="1257" font-size="46" textLength="385" lengthAdjust="spacingAndGlyphs"><tspan class="n">|</tspan>g<tspan font-size="28" dy="-16" class="n">⋆</tspan><tspan font-size="28" dx="-12" dy="26" class="n">2</tspan><tspan dy="-10" class="n">⟩⟨</tspan>f<tspan font-size="28" dy="-16" class="n">⋆</tspan><tspan font-size="28" dx="-12" dy="26" class="n">2</tspan><tspan dy="-10" class="n">| = </tspan>σ<tspan font-size="28" dy="10" class="n">2</tspan><tspan dy="-10" class="n">|</tspan>ψ<tspan font-size="28" dy="10" class="n">2</tspan><tspan dy="-10" class="n">⟩⟨</tspan>φ<tspan font-size="28" dy="10" class="n">2</tspan><tspan dy="-10" class="n">|</tspan></text>
<circle cx="2300" cy="1310" r="2.8"/><circle cx="2300" cy="1328" r="2.8"/><circle cx="2300" cy="1346" r="2.8"/>
<text class="m" x="2150" y="1417" font-size="46" textLength="410" lengthAdjust="spacingAndGlyphs"><tspan class="n">|</tspan>g<tspan font-size="28" dy="-16" class="n">⋆</tspan><tspan font-size="28" dx="-12" dy="26">L</tspan><tspan dy="-10" class="n">⟩⟨</tspan>f<tspan font-size="28" dy="-16" class="n">⋆</tspan><tspan font-size="28" dx="-12" dy="26">L</tspan><tspan dy="-10" class="n">| = </tspan>σ<tspan font-size="28" dy="10">L</tspan><tspan dy="-10" class="n">|</tspan>ψ<tspan font-size="28" dy="10">L</tspan><tspan dy="-10" class="n">⟩⟨</tspan>φ<tspan font-size="28" dy="10">L</tspan><tspan dy="-10" class="n">|</tspan></text>
</g>

<!-- Proposed Optimization Schemes -->
<text class="s b" x="1455" y="1585" font-size="56" textLength="845" lengthAdjust="spacingAndGlyphs">Proposed Optimization Schemes</text>
<text class="s b" x="1245" y="1667" font-size="42" textLength="433" lengthAdjust="spacingAndGlyphs">(1) <tspan fill="#1338ff">Sequential nesting</tspan></text>
<text class="s b" x="2050" y="1667" font-size="42" textLength="330" lengthAdjust="spacingAndGlyphs">(2) <tspan fill="#1338ff">Joint nesting</tspan></text>

<!-- Diagram 1 -->
<rect x="1227" y="1710" width="488" height="372" fill="#f8cbad" stroke="#222" stroke-width="2.5"/>
<g fill="#bdd7ee" stroke="#000" stroke-width="2.5">
<rect x="1315" y="1751" width="315" height="53"/>
<rect x="1315" y="1846" width="315" height="52"/>
<rect x="1318" y="1990" width="314" height="51"/>
</g>
<g stroke="#000" stroke-width="2" stroke-dasharray="7,5" fill="none">
<line x1="1228" y1="1777" x2="1313" y2="1868"/>
<line x1="1228" y1="1777" x2="1316" y2="2012"/>
<line x1="1228" y1="1872" x2="1316" y2="2012"/>
<line x1="1232" y1="1779" x2="1318" y2="2014"/>
<line x1="1717" y1="1777" x2="1632" y2="1868"/>
<line x1="1717" y1="1777" x2="1634" y2="2012"/>
<line x1="1717" y1="1872" x2="1634" y2="2012"/>
<line x1="1713" y1="1779" x2="1632" y2="2014"/>
</g>
<g stroke="#000" stroke-width="2.5">
<line x1="1195" y1="1777" x2="1222" y2="1777"/><line x1="1234" y1="1777" x2="1313" y2="1777" marker-end="url(#a2)"/>
<line x1="1195" y1="1872" x2="1222" y2="1872"/><line x1="1234" y1="1872" x2="1313" y2="1872" marker-end="url(#a2)"/>
<line x1="1195" y1="2016" x2="1222" y2="2016"/><line x1="1234" y1="2016" x2="1316" y2="2016" marker-end="url(#a2)"/>
<line x1="1750" y1="1777" x2="1723" y2="1777"/><line x1="1711" y1="1777" x2="1632" y2="1777" marker-end="url(#a2)"/>
<line x1="1750" y1="1872" x2="1723" y2="1872"/><line x1="1711" y1="1872" x2="1632" y2="1872" marker-end="url(#a2)"/>
<line x1="1750" y1="2016" x2="1723" y2="2016"/><line x1="1711" y1="2016" x2="1634" y2="2016" marker-end="url(#a2)"/>
</g>
<g fill="#fff" stroke="#000" stroke-width="2">
<circle cx="1228" cy="1777" r="6"/><circle cx="1228" cy="1872" r="6"/><circle cx="1228" cy="2016" r="6"/>
<circle cx="1717" cy="1777" r="6"/><circle cx="1717" cy="1872" r="6"/><circle cx="1717" cy="2016" r="6"/>
</g>
<g fill="#000">
<circle cx="1252" cy="1942" r="2.4"/><circle cx="1252" cy="1957" r="2.4"/><circle cx="1252" cy="1972" r="2.4"/>
<circle cx="1478" cy="1942" r="2.4"/><circle cx="1478" cy="1957" r="2.4"/><circle cx="1478" cy="1972" r="2.4"/>
<circle cx="1696" cy="1942" r="2.4"/><circle cx="1696" cy="1957" r="2.4"/><circle cx="1696" cy="1972" r="2.4"/>
</g>
<g class="m" font-size="36">
<text x="1128" y="1790"><tspan class="n">|</tspan>f<tspan font-size="24" dy="6" class="n">1</tspan><tspan dy="-6" class="n">⟩</tspan></text>
<text x="1128" y="1885"><tspan class="n">|</tspan>f<tspan font-size="24" dy="6" class="n">2</tspan><tspan dy="-6" class="n">⟩</tspan></text>
<text x="1128" y="2029"><tspan class="n">|</tspan>f<tspan font-size="24" dy="6">L</tspan><tspan dy="-6" class="n">⟩</tspan></text>
<text x="1760" y="1790"><tspan class="n">|</tspan>g<tspan font-size="24" dy="6" class="n">1</tspan><tspan dy="-6" class="n">⟩</tspan></text>
<text x="1760" y="1885"><tspan class="n">|</tspan>g<tspan font-size="24" dy="6" class="n">2</tspan><tspan dy="-6" class="n">⟩</tspan></text>
<text x="1760" y="2029"><tspan class="n">|</tspan>g<tspan font-size="24" dy="6">L</tspan><tspan dy="-6" class="n">⟩</tspan></text>
</g>
<g class="m" font-size="38" text-anchor="middle">
<text x="1472" y="1791">ℒ<tspan class="n">(</tspan>f<tspan font-size="24" dy="7" class="n">1</tspan><tspan dy="-7" class="n">, </tspan>g<tspan font-size="24" dy="7" class="n">1</tspan><tspan dy="-7" class="n">)</tspan></text>
<text x="1472" y="1885">ℒ<tspan class="n">(</tspan><tspan class="bu">f</tspan><tspan font-size="24" dy="7" class="n">1:2</tspan><tspan dy="-7" class="n">, </tspan><tspan class="bu">g</tspan><tspan font-size="24" dy="7" class="n">1:2</tspan><tspan dy="-7" class="n">)</tspan></text>
<text x="1475" y="2029">ℒ<tspan class="n">(</tspan><tspan class="bu">f</tspan><tspan font-size="24" dy="7"><tspan class="n">1:</tspan>L</tspan><tspan dy="-7" class="n">, </tspan><tspan class="bu">g</tspan><tspan font-size="24" dy="7"><tspan class="n">1:</tspan>L</tspan><tspan dy="-7" class="n">)</tspan></text>
</g>
<text class="s" x="1243" y="2222" font-size="30" textLength="393" lengthAdjust="spacingAndGlyphs">- Works well if each <tspan class="m">(f<tspan font-size="20" dy="5">i</tspan><tspan dy="-5">, g</tspan><tspan font-size="20" dy="5">i</tspan><tspan dy="-5">)</tspan></tspan> is</text>
<text class="s" x="1260" y="2262" font-size="30" textLength="317" lengthAdjust="spacingAndGlyphs">separately parametrized</text>

<!-- Diagram 2 -->
<rect x="1968" y="1712" width="489" height="455" fill="#f8cbad" stroke="#222" stroke-width="2.5"/>
<g fill="#fff" stroke="#000" stroke-width="2.5">
<rect x="2056" y="1752" width="312" height="52"/>
<rect x="2056" y="1847" width="312" height="52"/>
<rect x="2058" y="1990" width="314" height="53"/>
</g>
<rect x="2108" y="2091" width="315" height="65" fill="#bdd7ee" stroke="#000" stroke-width="2.5"/>
<g stroke="#000" stroke-width="2" stroke-dasharray="2.5,2.5" fill="none">
<path d="M2217,1804 V1826 H2081 V1847"/>
<path d="M2081,1899 V1927"/>
<path d="M2217,1899 V1990"/>
<path d="M2217,1942 H2098" marker-end="url(#a3)"/>
<path d="M2081,1957 V1990"/>
<path d="M2081,2043 V2061"/>
<path d="M2217,2043 V2076 H2098" marker-end="url(#a3)"/>
<path d="M2081,2091 V2122 H2106" marker-end="url(#a3)"/>
</g>
<g fill="none" stroke="#000" stroke-width="2">
<circle cx="2081" cy="1942" r="15"/><path d="M2066,1942H2096M2081,1927V1957"/>
<circle cx="2081" cy="2076" r="15"/><path d="M2066,2076H2096M2081,2061V2091"/>
</g>
<g stroke="#000" stroke-width="2">
<line x1="1967" y1="1778" x2="2054" y2="1871" marker-end="url(#a2)"/>
<line x1="1967" y1="1778" x2="2056" y2="2013" marker-end="url(#a2)"/>
<line x1="1967" y1="1873" x2="2056" y2="2013" marker-end="url(#a2)"/>
<line x1="2457" y1="1778" x2="2370" y2="1871" marker-end="url(#a2)"/>
<line x1="2457" y1="1778" x2="2374" y2="2013" marker-end="url(#a2)"/>
<line x1="2457" y1="1873" x2="2374" y2="2013" marker-end="url(#a2)"/>
</g>
<g stroke="#000" stroke-width="2.5">
<line x1="1935" y1="1778" x2="1961" y2="1778"/><line x1="1973" y1="1778" x2="2054" y2="1778" marker-end="url(#a2)"/>
<line x1="1935" y1="1873" x2="1961" y2="1873"/><line x1="1973" y1="1873" x2="2054" y2="1873" marker-end="url(#a2)"/>
<line x1="1935" y1="2017" x2="1961" y2="2017"/><line x1="1973" y1="2017" x2="2056" y2="2017" marker-end="url(#a2)"/>
<line x1="2490" y1="1778" x2="2463" y2="1778"/><line x1="2451" y1="1778" x2="2370" y2="1778" marker-end="url(#a2)"/>
<line x1="2490" y1="1873" x2="2463" y2="1873"/><line x1="2451" y1="1873" x2="2370" y2="1873" marker-end="url(#a2)"/>
<line x1="2490" y1="2017" x2="2463" y2="2017"/><line x1="2451" y1="2017" x2="2374" y2="2017" marker-end="url(#a2)"/>
</g>
<g fill="#fff" stroke="#000" stroke-width="2">
<circle cx="1967" cy="1778" r="6"/><circle cx="1967" cy="1873" r="6"/><circle cx="1967" cy="2017" r="6"/>
<circle cx="2457" cy="1778" r="6"/><circle cx="2457" cy="1873" r="6"/><circle cx="2457" cy="2017" r="6"/>
</g>
<g fill="#000">
<circle cx="1992" cy="1950" r="2.4"/><circle cx="1992" cy="1964" r="2.4"/><circle cx="1992" cy="1978" r="2.4"/>
<circle cx="2435" cy="1950" r="2.4"/><circle cx="2435" cy="1964" r="2.4"/><circle cx="2435" cy="1978" r="2.4"/>
</g>
<g class="m" font-size="36">
<text x="1870" y="1791"><tspan class="n">|</tspan>f<tspan font-size="24" dy="6" class="n">1</tspan><tspan dy="-6" class="n">⟩</tspan></text>
<text x="1870" y="1886"><tspan class="n">|</tspan>f<tspan font-size="24" dy="6" class="n">2</tspan><tspan dy="-6" class="n">⟩</tspan></text>
<text x="1870" y="2030"><tspan class="n">|</tspan>f<tspan font-size="24" dy="6">L</tspan><tspan dy="-6" class="n">⟩</tspan></text>
<text x="2503" y="1791"><tspan class="n">|</tspan>g<tspan font-size="24" dy="6" class="n">1</tspan><tspan dy="-6" class="n">⟩</tspan></text>
<text x="2503" y="1886"><tspan class="n">|</tspan>g<tspan font-size="24" dy="6" class="n">2</tspan><tspan dy="-6" class="n">⟩</tspan></text>
<text x="2503" y="2030"><tspan class="n">|</tspan>g<tspan font-size="24" dy="6">L</tspan><tspan dy="-6" class="n">⟩</tspan></text>
</g>
<g class="m" font-size="38" text-anchor="middle">
<text x="2212" y="1791">ℒ<tspan class="n">(</tspan>f<tspan font-size="24" dy="7" class="n">1</tspan><tspan dy="-7" class="n">, </tspan>g<tspan font-size="24" dy="7" class="n">1</tspan><tspan dy="-7" class="n">)</tspan></text>
<text x="2212" y="1886">ℒ<tspan class="n">(</tspan><tspan class="bu">f</tspan><tspan font-size="24" dy="7" class="n">1:2</tspan><tspan dy="-7" class="n">, </tspan><tspan class="bu">g</tspan><tspan font-size="24" dy="7" class="n">1:2</tspan><tspan dy="-7" class="n">)</tspan></text>
<text x="2215" y="2030">ℒ<tspan class="n">(</tspan><tspan class="bu">f</tspan><tspan font-size="24" dy="7"><tspan class="n">1:</tspan>L</tspan><tspan dy="-7" class="n">, </tspan><tspan class="bu">g</tspan><tspan font-size="24" dy="7"><tspan class="n">1:</tspan>L</tspan><tspan dy="-7" class="n">)</tspan></text>
</g>
<text class="m" x="2116" y="2138" font-size="36" textLength="300" lengthAdjust="spacingAndGlyphs"><tspan class="n">∑</tspan><tspan font-size="22" dy="-16">L</tspan><tspan font-size="22" dx="-12" dy="28">i<tspan class="n">=1</tspan></tspan><tspan dy="-12"> w</tspan><tspan font-size="22" dy="6">i</tspan><tspan dy="-6">ℒ</tspan><tspan class="n">(</tspan><tspan class="bu">f</tspan><tspan font-size="22" dy="6"><tspan class="n">1:</tspan>i</tspan><tspan dy="-6" class="n">, </tspan><tspan class="bu">g</tspan><tspan font-size="22" dy="6"><tspan class="n">1:</tspan>i</tspan><tspan dy="-6" class="n">)</tspan></text>
<text class="s" x="1955" y="2222" font-size="30" textLength="405" lengthAdjust="spacingAndGlyphs">- Works even if <tspan class="m">(<tspan class="bu">f</tspan><tspan font-size="20" dy="5">1:L</tspan><tspan dy="-5">, </tspan><tspan class="bu">g</tspan><tspan font-size="20" dy="5">1:L</tspan><tspan dy="-5">)</tspan></tspan> are</text>
<text class="s" x="1977" y="2260" font-size="30" textLength="468" lengthAdjust="spacingAndGlyphs">parameterized by a shared network</text>

<!-- ================= RIGHT COLUMN ================= -->
<text class="s b" x="3065" y="385" font-size="58" textLength="317" lengthAdjust="spacingAndGlyphs">Experiments</text>
<text class="s b" x="2725" y="477" font-size="42" fill="#7030a0" textLength="1001" lengthAdjust="spacingAndGlyphs">(1) Solving time-independent Schrödinger equation</text>
<text class="s" x="2652" y="565" font-size="40" fill="#ff0000">•</text>
<text class="s" x="2688" y="565" font-size="40" textLength="502" lengthAdjust="spacingAndGlyphs"><tspan fill="#ff0000">Hamiltonian (2D hydrogen)</tspan>:</text>
<text class="m" x="3217" y="567" font-size="46" textLength="215" lengthAdjust="spacingAndGlyphs">H <tspan class="n">= −∇</tspan><tspan class="n" font-size="28" dy="-18">2</tspan><tspan class="n" dy="18"> −</tspan></text>
<line x1="3450" y1="555" x2="3532" y2="555" stroke="#000" stroke-width="2.5"/>
<text class="r" x="3480" y="538" font-size="42">1</text>
<text class="r" x="3453" y="598" font-size="40">‖<tspan font-weight="bold">x</tspan>‖<tspan font-size="26" dy="6">2</tspan></text>

<!-- hydrogen grid -->
<g class="m" font-size="22" text-anchor="middle">
<text x="2707" y="636">n <tspan class="n">= 0</tspan></text>
<text x="2838" y="636">n <tspan class="n">= 1</tspan></text>
<text x="3102" y="636">n <tspan class="n">= 2</tspan></text>
<text x="3492" y="636">n <tspan class="n">= 3</tspan></text>
<text x="3764" y="634" font-size="18"><tspan class="n">|⟨</tspan>ψ<tspan font-size="12" dy="4">i</tspan><tspan dy="-4" class="n">|</tspan>ψ<tspan font-size="12" dy="4">j</tspan><tspan dy="-4" class="n">⟩|</tspan></text>
</g>
<g stroke="#222" stroke-width="1.6">
<line x1="2742" y1="606" x2="2742" y2="938"/>
<line x1="2938" y1="606" x2="2938" y2="938"/>
<line x1="3265" y1="606" x2="3265" y2="938"/>
<line x1="3726" y1="606" x2="3726" y2="938"/>
</g>
<g class="s" font-size="14" text-anchor="middle">
<text transform="translate(2664,687) rotate(-90)">SpIN</text>
<text transform="translate(2664,759) rotate(-90)">NeuralEF</text>
<text transform="translate(2664,834) rotate(-90)">NeuralSVD</text>
<text transform="translate(2664,907) rotate(-90)">GT</text>
</g>
<!-- row SpIN -->
<use href="#cd" x="2681" y="657" width="61" height="60"/>
<use href="#cA" x="2745" y="657" width="60" height="60"/>
<use href="#cB" x="2811" y="657" width="60" height="60"/>
<use href="#cA2" x="2875" y="657" width="60" height="60"/>
<use href="#cD" x="2941" y="657" width="60" height="60"/>
<use href="#cG" x="3006" y="657" width="60" height="60"/>
<use href="#cD" x="3071" y="657" width="60" height="60"/>
<use href="#cH" x="3136" y="657" width="60" height="60"/>
<use href="#cC" x="3201" y="657" width="60" height="60"/>
<!-- rows 2-4 -->
<g id="hrow">
<use href="#cd" x="2681" y="729" width="61" height="60"/>
<use href="#cA" x="2745" y="729" width="60" height="60"/>
<use href="#cB" x="2811" y="729" width="60" height="60"/>
<use href="#cA2" x="2875" y="729" width="60" height="60"/>
<use href="#cC" x="2941" y="729" width="60" height="60"/>
<use href="#cG" x="3006" y="729" width="60" height="60"/>
<use href="#cD" x="3071" y="729" width="60" height="60"/>
<use href="#cH" x="3136" y="729" width="60" height="60"/>
<use href="#cC" x="3201" y="729" width="60" height="60"/>
<use href="#cE" x="3265" y="729" width="60" height="60"/>
<use href="#cE2" x="3331" y="729" width="60" height="60"/>
<use href="#cG2" x="3396" y="729" width="60" height="60"/>
<use href="#cF" x="3462" y="729" width="60" height="60"/>
<use href="#cG3" x="3527" y="729" width="60" height="60"/>
<use href="#cE3" x="3592" y="729" width="60" height="60"/>
<use href="#cE" x="3657" y="729" width="60" height="60"/>
</g>
<use href="#hrow" x="0" y="75"/>
<use href="#hrow" x="0" y="148"/>
<!-- orthogonality -->
<use href="#om" x="3734" y="657" width="34" height="43"/>
<use href="#om" x="3734" y="729" width="60" height="60"/>
<use href="#om" x="3734" y="804" width="60" height="60"/>
<use href="#om" x="3734" y="877" width="60" height="60"/>

<!-- bar charts -->
<g class="s" font-size="15" text-anchor="middle">
<text x="2763" y="986">Rel. error eigvals</text>
<text x="2961" y="986">Angle distance</text>
<text x="3157" y="986">Subspace dist. (avg)</text>
<text x="3354" y="986">Subspace dist. (all)</text>
<text x="3551" y="986">Orthogonality</text>
</g>
<g class="s" font-size="12" text-anchor="end">
<text x="2692" y="1000">10⁰</text><text x="2692" y="1063">10⁻¹</text><text x="2692" y="1127">10⁻²</text>
<text x="2891" y="1000">10⁰</text><text x="2891" y="1068">10⁻¹</text><text x="2891" y="1133">10⁻²</text>
<text x="3091" y="1000">10⁰</text><text x="3091" y="1035">10⁻¹</text><text x="3091" y="1074">10⁻²</text><text x="3091" y="1113">10⁻³</text>
<text x="3287" y="1000">10⁰</text><text x="3287" y="1036">10⁻¹</text><text x="3287" y="1074">10⁻²</text><text x="3287" y="1111">10⁻³</text>
<text x="3481" y="1000">10⁰</text><text x="3481" y="1058">10⁻²</text><text x="3481" y="1117">10⁻⁴</text>
</g>
<g stroke="#333" stroke-width="1.5">
<line x1="2695" y1="995" x2="2695" y2="1142"/><line x1="2894" y1="995" x2="2894" y2="1142"/><line x1="3094" y1="995" x2="3094" y2="1142"/><line x1="3290" y1="995" x2="3290" y2="1142"/><line x1="3484" y1="995" x2="3484" y2="1142"/>
</g>
<g>
<rect x="2701.5" y="999" width="17.7" height="143" fill="#a6a6a6"/>
<rect x="2719.2" y="1069" width="17.7" height="73" fill="#5e9fd1"/>
<rect x="2736.9" y="1087" width="17.7" height="55" fill="#3a80c2"/><rect x="2736.9" y="1087" width="17.7" height="55" fill="url(#hatch)"/>
<rect x="2754.6" y="1104" width="17.7" height="38" fill="#e0676b"/>
<rect x="2772.3" y="1117" width="17.7" height="25" fill="#d83a3a"/><rect x="2772.3" y="1117" width="17.7" height="25" fill="url(#hatch)"/>
<rect x="2790" y="1125" width="17.7" height="17" fill="#fdaa5c"/>
<rect x="2807.7" y="1135" width="17.7" height="7" fill="#ff8f1f"/><rect x="2807.7" y="1135" width="17.7" height="7" fill="url(#hatch)"/>
</g>
<g>
<rect x="2897.7" y="1048" width="17.7" height="94" fill="#a6a6a6"/>
<rect x="2915.4" y="1037" width="17.7" height="105" fill="#5e9fd1"/>
<rect x="2933.1" y="1055" width="17.7" height="87" fill="#3a80c2"/><rect x="2933.1" y="1055" width="17.7" height="87" fill="url(#hatch)"/>
<rect x="2950.8" y="1107" width="17.7" height="35" fill="#e0676b"/>
<rect x="2968.5" y="1120" width="17.7" height="22" fill="#d83a3a"/><rect x="2968.5" y="1120" width="17.7" height="22" fill="url(#hatch)"/>
<rect x="2986.2" y="1123" width="17.7" height="19" fill="#fdaa5c"/>
<rect x="3003.9" y="1137" width="17.7" height="5" fill="#ff8f1f"/><rect x="3003.9" y="1137" width="17.7" height="5" fill="url(#hatch)"/>
</g>
<g>
<rect x="3095.4" y="1039" width="17.7" height="103" fill="#a6a6a6"/>
<rect x="3113.1" y="1027" width="17.7" height="115" fill="#5e9fd1"/>
<rect x="3130.8" y="1044" width="17.7" height="98" fill="#3a80c2"/><rect x="3130.8" y="1044" width="17.7" height="98" fill="url(#hatch)"/>
<rect x="3148.5" y="1093" width="17.7" height="49" fill="#e0676b"/>
<rect x="3166.2" y="1105" width="17.7" height="37" fill="#d83a3a"/><rect x="3166.2" y="1105" width="17.7" height="37" fill="url(#hatch)"/>
<rect x="3183.9" y="1123" width="17.7" height="19" fill="#fdaa5c"/>
<rect x="3201.6" y="1136" width="17.7" height="6" fill="#ff8f1f"/><rect x="3201.6" y="1136" width="17.7" height="6" fill="url(#hatch)"/>
</g>
<g>
<rect x="3292.3" y="1007" width="17.7" height="135" fill="#a6a6a6"/>
<rect x="3310" y="1041" width="17.7" height="101" fill="#5e9fd1"/>
<rect x="3327.7" y="1042" width="17.7" height="100" fill="#3a80c2"/><rect x="3327.7" y="1042" width="17.7" height="100" fill="url(#hatch)"/>
<rect x="3345.4" y="1122" width="17.7" height="20" fill="#e0676b"/>
<rect x="3363.1" y="1135" width="17.7" height="7" fill="#d83a3a"/><rect x="3363.1" y="1135" width="17.7" height="7" fill="url(#hatch)"/>
<rect x="3380.8" y="1122" width="17.7" height="20" fill="#fdaa5c"/>
<rect x="3398.5" y="1135" width="17.7" height="7" fill="#ff8f1f"/><rect x="3398.5" y="1135" width="17.7" height="7" fill="url(#hatch)"/>
</g>
<g>
<rect x="3488.5" y="1108" width="17.7" height="34" fill="#a6a6a6"/>
<rect x="3506.2" y="1086" width="17.7" height="56" fill="#5e9fd1"/>
<rect x="3523.9" y="1090" width="17.7" height="52" fill="#3a80c2"/><rect x="3523.9" y="1090" width="17.7" height="52" fill="url(#hatch)"/>
<rect x="3541.6" y="1101" width="17.7" height="41" fill="#e0676b"/>
<rect x="3559.3" y="1110" width="17.7" height="32" fill="#d83a3a"/><rect x="3559.3" y="1110" width="17.7" height="32" fill="url(#hatch)"/>
<rect x="3577" y="1131" width="17.7" height="11" fill="#fdaa5c"/>
<rect x="3594.7" y="1139" width="17.7" height="3" fill="#ff8f1f"/><rect x="3594.7" y="1139" width="17.7" height="3" fill="url(#hatch)"/>
</g>
<g stroke="#555" stroke-width="3">
<line x1="2695" y1="1142" x2="2836" y2="1142"/><line x1="2894" y1="1142" x2="3034" y2="1142"/><line x1="3094" y1="1142" x2="3226" y2="1142"/><line x1="3290" y1="1142" x2="3432" y2="1142"/><line x1="3484" y1="1142" x2="3621" y2="1142"/>
</g>
<rect x="3649" y="994" width="143" height="94" fill="#fff" stroke="#ccc" stroke-width="1.5" rx="3"/>
<rect x="3655" y="1002" width="26" height="11" fill="#a6a6a6"/>
<rect x="3655" y="1023" width="26" height="11" fill="#5e9fd1"/>
<rect x="3655" y="1044" width="26" height="11" fill="#e0676b"/>
<rect x="3655" y="1068" width="26" height="11" fill="#fdaa5c"/>
<g class="s" font-size="13">
<text x="3693" y="1012">SpIN</text>
<text x="3693" y="1033">NeuralEF</text>
<text x="3693" y="1054">NeuralSVD<tspan font-size="9" dy="3">jnt</tspan></text>
<text x="3693" y="1078">NeuralSVD<tspan font-size="9" dy="3">seq</tspan></text>
</g>

<!-- section 2 -->
<text class="s b" x="2688" y="1250" font-size="42" fill="#7030a0" textLength="1052" lengthAdjust="spacingAndGlyphs">(2) Representation learning for cross-domain retrieval</text>
<text class="s" x="2652" y="1337" font-size="40" fill="#ff0000">•</text>
<text class="s" x="2688" y="1337" font-size="40" textLength="522" lengthAdjust="spacingAndGlyphs"><tspan fill="#ff0000">Canonical dependence kernel</tspan>:</text>
<text class="m" x="3231" y="1340" font-size="44" textLength="167" lengthAdjust="spacingAndGlyphs">k<tspan class="n">(</tspan>x<tspan class="n">, </tspan>y<tspan class="n">) =</tspan></text>
<text class="m" x="3491" y="1312" font-size="42" text-anchor="middle">p<tspan class="n">(</tspan>x<tspan class="n">, </tspan>y<tspan class="n">)</tspan></text>
<line x1="3413" y1="1328" x2="3569" y2="1328" stroke="#000" stroke-width="2.5"/>
<text class="m" x="3491" y="1372" font-size="42" text-anchor="middle">p<tspan class="n">(</tspan>x<tspan class="n">)</tspan>p<tspan class="n">(</tspan>y<tspan class="n">)</tspan></text>
<text class="s" x="2717" y="1431" font-size="36">•</text>
<text class="s" x="2754" y="1431" font-size="38" textLength="961" lengthAdjust="spacingAndGlyphs">in terms of operator: conditional expectation operator</text>
<text class="m" x="2815" y="1505" font-size="42" textLength="844" lengthAdjust="spacingAndGlyphs"><tspan class="n">(</tspan>Kf<tspan class="n">)(</tspan>x<tspan class="n">) = 𝔼</tspan><tspan font-size="26" dy="10">p<tspan class="n">(</tspan>y<tspan class="n">)</tspan></tspan><tspan dy="-10" class="n">[</tspan>k<tspan class="n">(</tspan>x<tspan class="n">, </tspan>Y<tspan class="n">)</tspan>f<tspan class="n">(</tspan>Y<tspan class="n">)] = 𝔼</tspan><tspan font-size="26" dy="10">p<tspan class="n">(</tspan>y<tspan class="n">|</tspan>x<tspan class="n">)</tspan></tspan><tspan dy="-10" class="n">[</tspan>f<tspan class="n">(</tspan>Y<tspan class="n">)]</tspan></text>
<text class="s" x="2652" y="1598" font-size="40">•</text>
<text class="s" x="2688" y="1598" font-size="40" textLength="448" lengthAdjust="spacingAndGlyphs">Representation learning:</text>
<text class="m" x="3157" y="1598" font-size="42" textLength="456" lengthAdjust="spacingAndGlyphs">k<tspan class="n">(</tspan>x<tspan class="n">, </tspan>y<tspan class="n">) ≈ </tspan><tspan class="bu">f</tspan><tspan font-size="26" dy="8"><tspan class="n">1:</tspan>L</tspan><tspan dy="-8" class="n">(</tspan>x<tspan class="n">)ᵀ</tspan><tspan class="bu">g</tspan><tspan font-size="26" dy="8"><tspan class="n">1:</tspan>L</tspan><tspan dy="-8" class="n">(</tspan>y<tspan class="n">)</tspan></text>
<text class="s" x="2717" y="1667" font-size="36">•</text>
<text class="s" x="2754" y="1667" font-size="40" textLength="198" lengthAdjust="spacingAndGlyphs">Structured:</text>
<text class="m" x="2965" y="1667" font-size="42" textLength="771" lengthAdjust="spacingAndGlyphs"><tspan class="n">𝔼</tspan><tspan font-size="26" dy="10">p<tspan class="n">(</tspan>x<tspan class="n">)</tspan></tspan><tspan dy="-10" class="n">[</tspan>f<tspan font-size="26" dy="8">i</tspan><tspan dy="-8" class="n">(</tspan>x<tspan class="n">)</tspan>f<tspan font-size="26" dy="8">j</tspan><tspan dy="-8" class="n">(</tspan>y<tspan class="n">)] = 𝔼</tspan><tspan font-size="26" dy="10">p<tspan class="n">(</tspan>y<tspan class="n">)</tspan></tspan><tspan dy="-10" class="n">[</tspan>g<tspan font-size="26" dy="8">i</tspan><tspan dy="-8" class="n">(</tspan>x<tspan class="n">)</tspan>g<tspan font-size="26" dy="8">j</tspan><tspan dy="-8" class="n">(</tspan>y<tspan class="n">)] = </tspan>δ<tspan font-size="26" dy="8">ij</tspan></text>
<text class="s" x="2652" y="1743" font-size="40">•</text>
<text class="s" x="2688" y="1743" font-size="40" textLength="940" lengthAdjust="spacingAndGlyphs">Application: zero-shot sketchy-based image retrieval</text>
<text class="s" x="2717" y="1812" font-size="32">•</text>
<text class="s" x="2754" y="1812" font-size="30" textLength="390" lengthAdjust="spacingAndGlyphs">Task: given a sketch, e.g.,</text>
<path d="M3154,1773 L3162,1771 L3198,1818 L3210,1815 L3222,1828 L3218,1838 L3208,1836 L3195,1822 L3186,1826 L3158,1790 Z M3200,1822 L3210,1820 L3215,1830 L3206,1832 Z" fill="none" stroke="#222" stroke-width="2"/>
<text class="s" x="3232" y="1812" font-size="30" textLength="545" lengthAdjust="spacingAndGlyphs">, retrieve corresponding images, e.g.,</text>

<!-- image strip -->
<defs>
<linearGradient id="im1" x1="0" y1="0" x2="1" y2="1"><stop offset="0" stop-color="#4a3a28"/><stop offset="0.5" stop-color="#9a7550"/><stop offset="1" stop-color="#3a2a1a"/></linearGradient>
<linearGradient id="im2" x1="0" y1="0" x2="1" y2="1"><stop offset="0" stop-color="#2a1a10"/><stop offset="0.5" stop-color="#a07a4a"/><stop offset="1" stop-color="#1a1008"/></linearGradient>
<linearGradient id="im3" x1="0" y1="0" x2="1" y2="0"><stop offset="0" stop-color="#1a0a06"/><stop offset="0.5" stop-color="#7a4a20"/><stop offset="1" stop-color="#2a1208"/></linearGradient>
<linearGradient id="im5" x1="0" y1="0" x2="1" y2="1"><stop offset="0" stop-color="#c8c8c0"/><stop offset="0.5" stop-color="#505050"/><stop offset="1" stop-color="#d8d8d0"/></linearGradient>
<linearGradient id="im6" x1="0" y1="0" x2="1" y2="0"><stop offset="0" stop-color="#c9a88a"/><stop offset="1" stop-color="#e0c8b0"/></linearGradient>
<linearGradient id="im7" x1="0" y1="0" x2="1" y2="1"><stop offset="0" stop-color="#8a6a50"/><stop offset="0.5" stop-color="#b09070"/><stop offset="1" stop-color="#705040"/></linearGradient>
<linearGradient id="im8" x1="0" y1="0" x2="1" y2="1"><stop offset="0" stop-color="#5a4030"/><stop offset="0.5" stop-color="#c08a40"/><stop offset="1" stop-color="#8a6a40"/></linearGradient>
<linearGradient id="im9" x1="0" y1="0" x2="1" y2="1"><stop offset="0" stop-color="#101010"/><stop offset="0.5" stop-color="#505050"/><stop offset="1" stop-color="#151515"/></linearGradient>
<linearGradient id="im10" x1="0" y1="0" x2="1" y2="1"><stop offset="0" stop-color="#d0c0b0"/><stop offset="0.5" stop-color="#2a2018"/><stop offset="1" stop-color="#0a0806"/></linearGradient>
</defs>
<g stroke-width="6">
<rect x="2695" y="1870" width="81" height="80" fill="url(#im1)" stroke="#6aaa3e"/>
<rect x="2795" y="1870" width="81" height="80" fill="url(#im2)" stroke="#6aaa3e"/>
<rect x="2895" y="1871" width="117" height="79" fill="url(#im3)" stroke="#ff1010"/>
<rect x="3028" y="1870" width="74" height="79" fill="#f4f4f4" stroke="#ff1010"/>
<rect x="3121" y="1870" width="83" height="80" fill="url(#im5)" stroke="#6aaa3e"/>
<rect x="3223" y="1870" width="80" height="81" fill="url(#im6)" stroke="#6aaa3e"/>
<rect x="3325" y="1869" width="107" height="80" fill="url(#im7)" stroke="#6aaa3e"/>
<rect x="3449" y="1871" width="100" height="77" fill="url(#im8)" stroke="#6aaa3e"/>
<rect x="3568" y="1872" width="97" height="76" fill="url(#im9)" stroke="#ff1010"/>
<rect x="3684" y="1872" width="111" height="76" fill="url(#im10)" stroke="#ff1010"/>
</g>
<ellipse cx="3064" cy="1910" rx="12" ry="28" fill="#d8a830"/>
<ellipse cx="2950" cy="1915" rx="38" ry="10" fill="none" stroke="#c89a40" stroke-width="4"/>
<path d="M2705,1935 L2765,1895" stroke="#c8a070" stroke-width="6"/>
<path d="M2815,1880 L2860,1940" stroke="#d8c8b0" stroke-width="8"/>
<path d="M3130,1940 L3195,1885" stroke="#222" stroke-width="7"/>
<path d="M3240,1890 H3290 V1935 H3240 Z" fill="none" stroke="#333" stroke-width="3"/>
<g fill="#c03030"><circle cx="3350" cy="1900" r="7"/><circle cx="3400" cy="1930" r="8"/><circle cx="3375" cy="1885" r="5"/></g>
<g fill="#3a5a8a"><circle cx="3380" cy="1915" r="6"/><circle cx="3415" cy="1895" r="6"/></g>
<circle cx="3615" cy="1900" r="10" fill="#c8c8c8"/>
<ellipse cx="3740" cy="1920" rx="22" ry="18" fill="#101010" stroke="#b0a090" stroke-width="3"/>

<!-- line plots -->
<g class="s" font-size="19" text-anchor="middle">
<text x="2793" y="2025">P@100 (split 1)</text>
<text x="3012" y="2025">mAP@all (split 1)</text>
<text x="3231" y="2025">P@100 (split 2)</text>
<text x="3450" y="2025">mAP@all (split 2)</text>
</g>
<g id="axes1">
<g stroke="#c4c4c4" stroke-width="1.5">
<line x1="2702" y1="2033" x2="2885" y2="2033"/><line x1="2702" y1="2075" x2="2885" y2="2075"/><line x1="2702" y1="2117" x2="2885" y2="2117"/><line x1="2702" y1="2158" x2="2885" y2="2158"/>
<line x1="2722.4" y1="2033" x2="2722.4" y2="2200"/><line x1="2763.1" y1="2033" x2="2763.1" y2="2200"/><line x1="2803.8" y1="2033" x2="2803.8" y2="2200"/><line x1="2885.2" y1="2033" x2="2885.2" y2="2200"/>
</g>
<line x1="2844.5" y1="2033" x2="2844.5" y2="2200" stroke="#111" stroke-width="2"/>
<line x1="2702" y1="2033" x2="2702" y2="2200" stroke="#111" stroke-width="2"/>
<line x1="2702" y1="2200" x2="2886" y2="2200" stroke="#111" stroke-width="2.5"/>
<g class="s" font-size="15"><text x="2693" y="2228">2⁰2¹</text><text x="2755" y="2228">2³</text><text x="2796" y="2228">2⁵</text><text x="2837" y="2228">2⁷</text><text x="2878" y="2228">2⁹</text></g>
<text class="m" x="2790" y="2247" font-size="16">d</text>
</g>
<use href="#axes1" x="219" y="0"/>
<use href="#axes1" x="438" y="0"/>
<use href="#axes1" x="656" y="0"/>
<g class="s" font-size="14" text-anchor="end">
<text x="2696" y="2038">0.8</text><text x="2696" y="2080">0.6</text><text x="2696" y="2122">0.4</text><text x="2696" y="2163">0.2</text><text x="2696" y="2205">0.0</text>
</g>
<g fill="none" stroke-linejoin="round">
<polyline points="2702,2185 2722,2177 2743,2160 2763,2137 2783,2106 2804,2083 2824,2068 2844,2062 2865,2060 2885,2060" stroke="#f0a0a0" stroke-width="7" stroke-opacity="0.6"/>
<polyline points="2702,2185 2722,2177 2743,2160 2763,2137 2783,2106 2804,2083 2824,2068 2844,2062 2865,2060 2885,2060" stroke="#d62728" stroke-width="3"/>
<polyline points="2702,2190 2722,2185 2743,2179 2763,2173 2783,2154 2804,2127 2824,2098 2844,2077 2865,2064 2885,2060" stroke="#ccc" stroke-width="8" stroke-opacity="0.8"/>
<polyline points="2702,2190 2722,2185 2743,2179 2763,2173 2783,2154 2804,2127 2824,2098 2844,2077 2865,2064 2885,2060" stroke="#666" stroke-width="2.5" stroke-dasharray="2,3"/>
<polyline points="2702,2192 2722,2192 2743,2193 2763,2194 2783,2193 2804,2193 2824,2191 2844,2185 2858,2165 2870,2120 2885,2060" stroke="#c98a90" stroke-width="3" stroke-dasharray="7,4"/>
<polyline points="2921,2177 2941,2171 2962,2160 2982,2140 3002,2117 3023,2098 3043,2085 3064,2080 3084,2079 3104,2079" stroke="#f0a0a0" stroke-width="7" stroke-opacity="0.6"/>
<polyline points="2921,2177 2941,2171 2962,2160 2982,2140 3002,2117 3023,2098 3043,2085 3064,2080 3084,2079 3104,2079" stroke="#d62728" stroke-width="3"/>
<polyline points="2921,2183 2941,2181 2962,2177 2982,2167 3002,2152 3023,2131 3043,2104 3064,2085 3084,2081 3104,2079" stroke="#ccc" stroke-width="8" stroke-opacity="0.8"/>
<polyline points="2921,2183 2941,2181 2962,2177 2982,2167 3002,2152 3023,2131 3043,2104 3064,2085 3084,2081 3104,2079" stroke="#666" stroke-width="2.5" stroke-dasharray="2,3"/>
<polyline points="2921,2188 2941,2188 2962,2188 2982,2188 3002,2188 3023,2187 3043,2186 3064,2182 3080,2175 3092,2140 3104,2081" stroke="#c98a90" stroke-width="3" stroke-dasharray="7,4"/>
<polyline points="3140,2181 3160,2171 3181,2154 3201,2121 3221,2083 3242,2062 3262,2052 3283,2050 3303,2050 3323,2050" stroke="#f0a0a0" stroke-width="7" stroke-opacity="0.6"/>
<polyline points="3140,2181 3160,2171 3181,2154 3201,2121 3221,2083 3242,2062 3262,2052 3283,2050 3303,2050 3323,2050" stroke="#d62728" stroke-width="3"/>
<polyline points="3140,2185 3160,2179 3181,2171 3201,2158 3221,2133 3242,2106 3262,2081 3283,2066 3303,2056 3323,2050" stroke="#ccc" stroke-width="8" stroke-opacity="0.8"/>
<polyline points="3140,2185 3160,2179 3181,2171 3201,2158 3221,2133 3242,2106 3262,2081 3283,2066 3303,2056 3323,2050" stroke="#666" stroke-width="2.5" stroke-dasharray="2,3"/>
<polyline points="3140,2190 3160,2190 3181,2190 3201,2191 3221,2191 3242,2190 3262,2188 3283,2183 3298,2160 3310,2110 3323,2050" stroke="#c98a90" stroke-width="3" stroke-dasharray="7,4"/>
<polyline points="3358,2173 3378,2162 3399,2152 3419,2127 3439,2100 3460,2081 3480,2071 3500,2067 3521,2066 3541,2066" stroke="#f0a0a0" stroke-width="7" stroke-opacity="0.6"/>
<polyline points="3358,2173 3378,2162 3399,2152 3419,2127 3439,2100 3460,2081 3480,2071 3500,2067 3521,2066 3541,2066" stroke="#d62728" stroke-width="3"/>
<polyline points="3358,2179 3378,2177 3399,2171 3419,2160 3439,2146 3460,2129 3480,2106 3500,2087 3521,2075 3541,2068" stroke="#ccc" stroke-width="8" stroke-opacity="0.8"/>
<polyline points="3358,2179 3378,2177 3399,2171 3419,2160 3439,2146 3460,2129 3480,2106 3500,2087 3521,2075 3541,2068" stroke="#666" stroke-width="2.5" stroke-dasharray="2,3"/>
<polyline points="3358,2185 3378,2185 3399,2184 3419,2184 3439,2185 3460,2184 3480,2183 3500,2179 3515,2160 3528,2110 3541,2073" stroke="#c98a90" stroke-width="3" stroke-dasharray="7,4"/>
</g>
<rect x="3562" y="2033" width="230" height="82" fill="#fff" stroke="#ddd" stroke-width="1.5" rx="3"/>
<line x1="3566" y1="2047" x2="3600" y2="2047" stroke="#d62728" stroke-width="3"/>
<line x1="3566" y1="2073" x2="3600" y2="2073" stroke="#666" stroke-width="2.5" stroke-dasharray="2,3"/>
<line x1="3566" y1="2097" x2="3600" y2="2097" stroke="#c98a90" stroke-width="3" stroke-dasharray="7,4"/>
<g class="s" font-size="14">
<text x="3609" y="2052">NeuralSVD<tspan font-size="10" dy="4">jnt</tspan><tspan dy="-4"> (</tspan><tspan font-style="italic">d</tspan>-MSM)</text>
<text x="3609" y="2078">Unstructured</text>
<text x="3609" y="2102">NeuralSVD<tspan font-size="10" dy="4">jnt</tspan><tspan dy="-4"> (</tspan><tspan font-style="italic">d</tspan>-LSM)</text>
</g>
<text class="m" x="3640" y="2135" font-size="13">d<tspan class="n">-MSMs</tspan></text>
<line x1="3640" y1="2143" x2="3676" y2="2143" stroke="#1f2a44" stroke-width="2" marker-end="url(#a3)"/>
<text class="r" x="3567" y="2163" font-size="13">NeuralSVD</text>
<g stroke="#1f2a44" stroke-width="0.8">
<rect x="3640" y="2149" width="19.25" height="19" fill="#c00000"/>
<rect x="3659.25" y="2149" width="19.25" height="19" fill="#d04848"/>
<rect x="3678.5" y="2149" width="19.25" height="19" fill="#de7a7a"/>
<rect x="3697.75" y="2149" width="19.25" height="19" fill="#e8a0a0"/>
<rect x="3717" y="2149" width="19.25" height="19" fill="#f0bdbd"/>
<rect x="3736.25" y="2149" width="19.25" height="19" fill="#f5d4d4"/>
<rect x="3755.5" y="2149" width="19.25" height="19" fill="#f9e6e6"/>
<rect x="3774.75" y="2149" width="19.25" height="19" fill="#fcf3f3"/>
</g>
<rect x="3640" y="2149" width="154" height="19" fill="none" stroke="#1f2a44" stroke-width="2"/>
<line x1="3794" y1="2175" x2="3756" y2="2175" stroke="#1f2a44" stroke-width="2" marker-end="url(#a3)"/>
<text class="m" x="3748" y="2192" font-size="13">d<tspan class="n">-LSMs</tspan></text>
<text class="r" x="3555" y="2220" font-size="13">Unstructured</text>
<g stroke="#1f2a44" stroke-width="0.8" fill="#f5dcdc">
<rect x="3640" y="2206" width="19.25" height="19"/><rect x="3659.25" y="2206" width="19.25" height="19"/><rect x="3678.5" y="2206" width="19.25" height="19"/><rect x="3697.75" y="2206" width="19.25" height="19"/><rect x="3717" y="2206" width="19.25" height="19"/><rect x="3736.25" y="2206" width="19.25" height="19"/><rect x="3755.5" y="2206" width="19.25" height="19"/><rect x="3774.75" y="2206" width="19.25" height="19"/>
</g>
<rect x="3640" y="2206" width="154" height="19" fill="none" stroke="#1f2a44" stroke-width="2"/>
</svg>
</body></html>
